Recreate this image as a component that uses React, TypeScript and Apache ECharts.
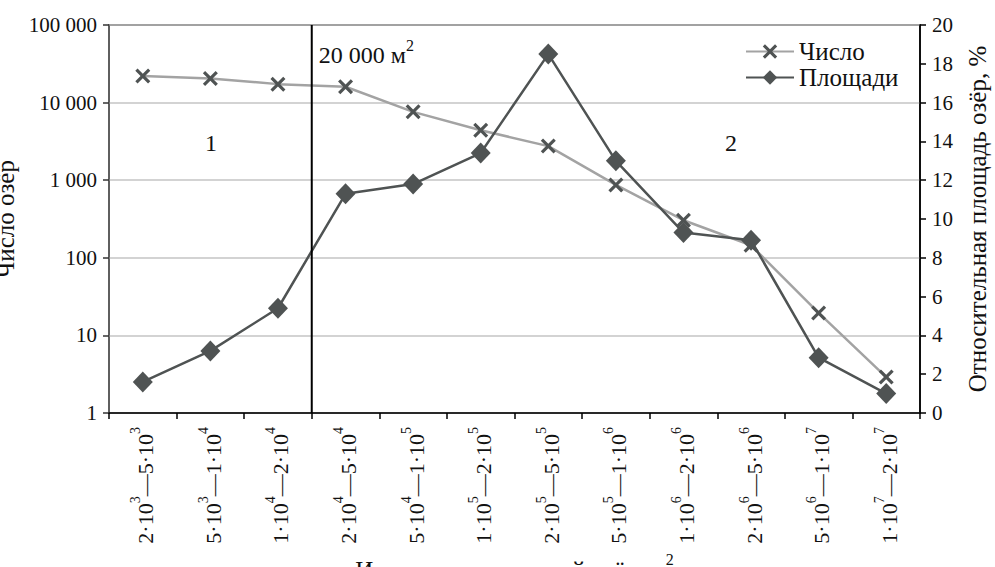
import React, { useEffect, useRef } from "react";
import * as echarts from "echarts";

const categories = [
  "2·10³—5·10³",
  "5·10³—1·10⁴",
  "1·10⁴—2·10⁴",
  "2·10⁴—5·10⁴",
  "5·10⁴—1·10⁵",
  "1·10⁵—2·10⁵",
  "2·10⁵—5·10⁵",
  "5·10⁵—1·10⁶",
  "1·10⁶—2·10⁶",
  "2·10⁶—5·10⁶",
  "5·10⁶—1·10⁷",
  "1·10⁷—2·10⁷",
];
const countValues = [22000, 20500, 17300, 16000, 7600, 4400, 2750, 870, 305, 145, 19.5, 2.9];
const areaValues = [1.6, 3.2, 5.4, 11.3, 11.8, 13.4, 18.5, 13.0, 9.3, 8.9, 2.85, 1.0];
const leftTicks = [1, 10, 100, 1000, 10000, 100000];

const FONT = "Liberation Serif";
const TEXT = "#111";
const DARK = "#4f5353";
const LIGHT = "#a3a3a3";
const CROSS =
  "path://M1.5,0 L5,3.5 L8.5,0 L10,1.5 L6.5,5 L10,8.5 L8.5,10 L5,6.5 L1.5,10 L0,8.5 L3.5,5 L0,1.5 Z";

const SUP: Record<string, string> = { "²": "2", "³": "3", "⁴": "4", "⁵": "5", "⁶": "6", "⁷": "7" };

function toRich(s: string): string {
  let out = "";
  let buf = "";
  for (const ch of s) {
    if (SUP[ch]) {
      if (buf) out += "{n|" + buf + "}";
      buf = "";
      out += "{s|" + SUP[ch] + "}";
    } else buf += ch;
  }
  if (buf) out += "{n|" + buf + "}";
  return out;
}

function richStyles(size: number) {
  return {
    n: { fontFamily: FONT, fontSize: size, color: TEXT, lineHeight: size + 6, verticalAlign: "bottom" },
    s: { fontFamily: FONT, fontSize: Math.round(size * 0.65), color: TEXT, lineHeight: size + 6, verticalAlign: "top" },
  };
}

function fmt(v: number): string {
  const s = String(Math.round(v));
  return s.replace(/\B(?=(\d{3})+(?!\d))/g, " ");
}

export default function App() {
  const ref = useRef<HTMLDivElement>(null);
  useEffect(() => {
    if (!ref.current) return;
    const chart = echarts.init(ref.current, undefined, { renderer: "svg" });
    chart.setOption({
      animation: false,
      textStyle: { fontFamily: FONT, color: TEXT },
      grid: {
        left: 109,
        right: 75,
        top: 25,
        bottom: 154,
        containLabel: false,
        outerBoundsMode: "none",
        show: true,
        borderColor: "#000",
        borderWidth: 1.5,
      },
      legend: {
        orient: "vertical",
        left: 740,
        top: 34,
        itemWidth: 48,
        itemHeight: 18,
        itemGap: 1,
        textStyle: { fontFamily: FONT, fontSize: 25, lineHeight: 25, color: TEXT },
        data: ["Число", "Площади"],
      },
      xAxis: {
        type: "category",
        data: categories,
        boundaryGap: true,
        name: toRich("Интервалы площадей озёр, м²"),
        nameLocation: "middle",
        nameGap: 88,
        nameTextStyle: {
          fontFamily: FONT,
          fontSize: 25,
          color: TEXT,
          rich: richStyles(25),
        },
        axisLine: { lineStyle: { color: "#000", width: 1.5 } },
        axisTick: { show: true, alignWithLabel: false, length: 6, lineStyle: { color: "#000", width: 1.5 } },
        axisLabel: {
          interval: 0,
          rotate: 90,
          margin: 14,
          fontFamily: FONT,
          fontSize: 22,
          color: TEXT,
          formatter: (v: string) => toRich(v),
          rich: richStyles(22),
        },
        splitLine: { show: false },
      },
      yAxis: [
        {
          type: "log",
          logBase: 10,
          min: leftTicks[0],
          max: leftTicks[leftTicks.length - 1],
          name: "Число озёр",
          nameLocation: "middle",
          nameGap: 52,
          nameRotate: 90,
          nameTextStyle: { fontFamily: FONT, fontSize: 25, color: TEXT },
          axisLine: { show: true, lineStyle: { color: "#6b6b6b", width: 1.5 } },
          axisTick: { show: true, length: 6, lineStyle: { color: "#333", width: 1.5 } },
          axisLabel: {
            margin: 12,
            fontFamily: FONT,
            fontSize: 21,
            color: TEXT,
            formatter: (v: number) => fmt(v),
          },
          splitLine: { show: true, lineStyle: { color: "#c4c4c4", width: 1.5 } },
        },
        {
          type: "value",
          min: 0,
          max: 20,
          interval: 2,
          position: "right",
          name: "Относительная площадь озёр, %",
          nameLocation: "middle",
          nameGap: 45,
          nameRotate: 90,
          nameTextStyle: { fontFamily: FONT, fontSize: 25, color: TEXT },
          axisLine: { show: true, lineStyle: { color: "#000", width: 1.5 } },
          axisTick: { show: true, length: 6, lineStyle: { color: "#000", width: 1.5 } },
          axisLabel: { margin: 12, fontFamily: FONT, fontSize: 21, color: TEXT },
          splitLine: { show: false },
        },
      ],
      series: [
        {
          name: "Число",
          type: "line",
          yAxisIndex: 0,
          data: countValues,
          symbol: CROSS,
          symbolSize: 15,
          itemStyle: { color: DARK },
          lineStyle: { color: LIGHT, width: 2.5 },
          z: 3,
        },
        {
          name: "Площади",
          type: "line",
          yAxisIndex: 1,
          data: areaValues,
          symbol: "diamond",
          symbolSize: [20, 21],
          itemStyle: { color: DARK },
          lineStyle: { color: DARK, width: 2.5 },
          z: 4,
        },
      ],
    });

    const p2 = chart.convertToPixel({ xAxisIndex: 0 }, 2) as number;
    const p3 = chart.convertToPixel({ xAxisIndex: 0 }, 3) as number;
    const yTop = chart.convertToPixel({ yAxisIndex: 0 }, leftTicks[leftTicks.length - 1]) as number;
    const yBot = chart.convertToPixel({ yAxisIndex: 0 }, leftTicks[0]) as number;
    const xb = (p2 + p3) / 2;
    chart.setOption({
      graphic: [
        {
          type: "line",
          shape: { x1: xb, y1: yTop, x2: xb, y2: yBot },
          style: { stroke: "#000", lineWidth: 2 },
          z: 10,
        },
        {
          type: "text",
          x: xb + 7,
          y: 52,
          style: {
            text: toRich("20 000 м²"),
            rich: richStyles(24),
            fontFamily: FONT,
            fontSize: 24,
            fill: TEXT,
            verticalAlign: "middle",
          },
          z: 10,
        },
        {
          type: "text",
          x: 211,
          y: 143,
          style: { text: "1", fontFamily: FONT, fontSize: 24, fill: TEXT, align: "center", verticalAlign: "middle" },
          z: 10,
        },
        {
          type: "text",
          x: 731,
          y: 143,
          style: { text: "2", fontFamily: FONT, fontSize: 24, fill: TEXT, align: "center", verticalAlign: "middle" },
          z: 10,
        },
      ],
    });
    return () => chart.dispose();
  }, []);
  return <div ref={ref} style={{ position: "absolute", left: 0, top: 0, width: 995, height: 567 }} />;
}
